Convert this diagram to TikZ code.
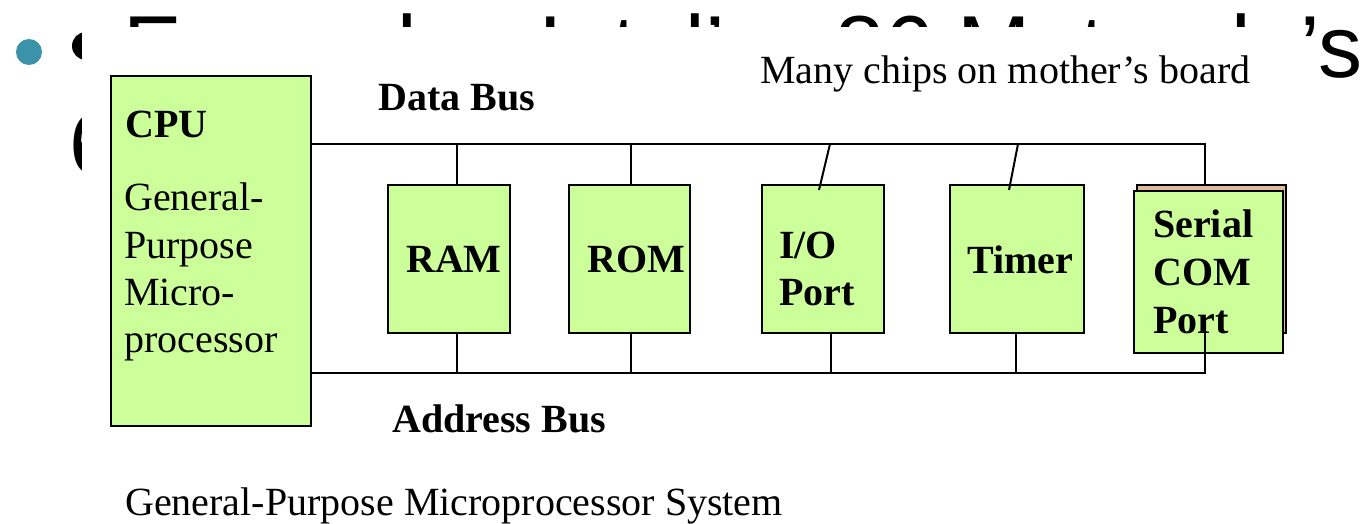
\documentclass[tikz,border=0pt]{standalone}
\usepackage{fontspec}
\setmainfont{Liberation Serif}
\newfontfamily\bigsans{Liberation Sans}
\definecolor{chipgreen}{HTML}{CCFF99}
\definecolor{chiptan}{HTML}{DDBB99}
\definecolor{bullteal}{HTML}{3A93A8}
\begin{document}
\begin{tikzpicture}[x=1pt,y=-1pt,
  chip/.style={draw=black, line width=2.4pt, fill=chipgreen, inner sep=0pt},
  lbl/.style={inner sep=0pt, anchor=base west, font=\fontsize{40}{47}\selectfont},
  blbl/.style={inner sep=0pt, anchor=base west, font=\fontsize{40}{47}\selectfont\bfseries},
  bus/.style={line width=2pt, draw=black},
  bigtxt/.style={inner sep=0pt, anchor=base west, font=\bigsans\fontsize{88}{100}\selectfont}]
\useasboundingbox (0,0) rectangle (1363,524);
\fill[white] (0,0) rectangle (1363,524);
% slide text behind the pasted picture
\fill[bullteal] (29,52) circle (13);
\fill[black] (86,46) circle (14);
\node[bigtxt] (l1) at (123,78) {Example:\kern49pt Intel’s x86,Motorola’s};
\node[bigtxt] (l2) at (69,175) {680x0};
% pasted picture
\fill[white] (82,27) rectangle (1303,524);
% boxes
\node[chip, minimum width=200pt, minimum height=350pt] (cpu) at (211,251) {};
\node[chip, minimum width=122pt, minimum height=148pt] (ram) at (449,259) {};
\node[chip, minimum width=121pt, minimum height=148pt] (rom) at (629.5,259) {};
\node[chip, minimum width=122pt, minimum height=148pt] (io) at (823,259) {};
\node[chip, minimum width=134pt, minimum height=148pt] (timer) at (1017,259) {};
\node[chip, fill=chiptan, line width=2pt, minimum width=149pt, minimum height=148pt] (serback) at (1211.5,259) {};
\node[chip, minimum width=149pt, minimum height=162pt] (serial) at (1208.5,272) {};
% texts in boxes
\node[blbl] (tcpu) at (125,138) {CPU};
\node[lbl] (tg1) at (124,211) {General-};
\node[lbl] (tg2) at (124,258) {Purpose};
\node[lbl] (tg3) at (124,305) {Micro-};
\node[lbl] (tg4) at (124,352) {processor};
\node[blbl] (tram) at (406,272) {RAM};
\node[blbl] (trom) at (587,272) {ROM};
\node[blbl] (tio1) at (779,258) {I/O};
\node[blbl] (tio2) at (779,305) {Port};
\node[blbl] (ttim) at (967,273) {Timer};
\node[blbl] (ts1) at (1153,237) {Serial};
\node[blbl] (ts2) at (1153,285) {COM};
\node[blbl] (ts3) at (1153,333) {Port};
% labels
\node[blbl] (tdata) at (378,111) {Data Bus};
\node[blbl] (taddr) at (392,432) {Address Bus};
\node[lbl] (tmany) at (760,84) {Many chips on mother’s board};
\node[lbl] (tcap) at (125,515) {General-Purpose Microprocessor System};
% bus coordinates
\coordinate (d0) at (cpu.east |- 0,144);
\coordinate (dR) at (1205,144);
\coordinate (dram) at (457,144);
\coordinate (drom) at (631,144);
\coordinate (dio) at (830,144);
\coordinate (dtim) at (1018,144);
\coordinate (a0) at (cpu.east |- 0,373);
\coordinate (aR) at (1205,373);
\coordinate (aram) at (457,373);
\coordinate (arom) at (631,373);
\coordinate (aio) at (831,373);
\coordinate (atim) at (1016,373);
\coordinate (ioin) at (819,190);
\coordinate (timin) at (1009,190);
\coordinate (serin) at (1205,330);
% data bus
\draw[bus] (d0) -- (dR) -- (dR |- serback.north);
\draw[bus] (dram) -- (dram |- ram.north);
\draw[bus] (drom) -- (drom |- rom.north);
\draw[bus] (dio) -- (ioin);
\draw[bus] (dtim) -- (timin);
% address bus
\draw[bus] (a0) -- (aR) -- (serin);
\draw[bus] (aram) -- (aram |- ram.south);
\draw[bus] (arom) -- (arom |- rom.south);
\draw[bus] (aio) -- (aio |- io.south);
\draw[bus] (atim) -- (atim |- timer.south);
\end{tikzpicture}
\end{document}
